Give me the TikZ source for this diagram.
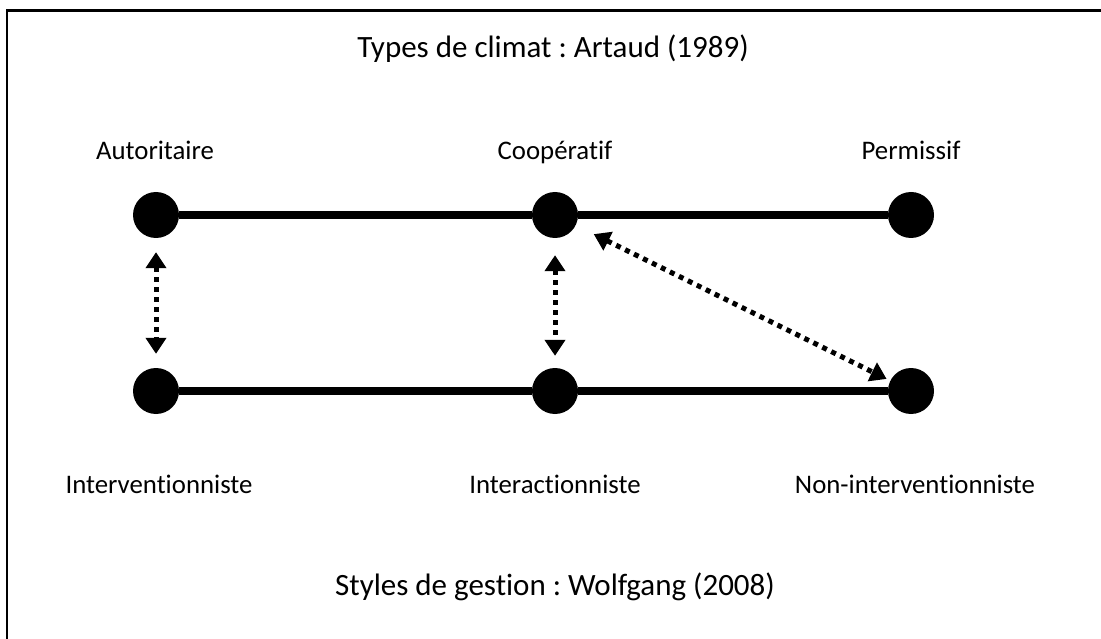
\documentclass[tikz,border=0pt]{standalone}
\usepackage{fontspec}
\setmainfont{Carlito}[Ligatures=NoCommon]
\frenchspacing
\usetikzlibrary{arrows.meta}
\tikzset{
    pnode/.style={circle,fill=black,minimum size=46pt,inner sep=0pt},
    lbl/.style={anchor=base,inner sep=0pt,font=\fontsize{26.8}{30}\selectfont},
    ttl/.style={anchor=base,inner sep=0pt,font=\fontsize{31}{36}\selectfont},
    axis/.style={draw,line width=8pt},
    dlink/.style={draw,line width=5pt,dash pattern=on 5pt off 5pt,
        {Triangle[length=16pt,width=20pt]}-{Triangle[length=16pt,width=20pt]}},
}

\begin{document}
\begin{tikzpicture}[x=1pt,y=-1pt]
\useasboundingbox (0,0) rectangle (1101,639);
\draw[line width=2.5pt] (7,639) -- (7,10.5) -- (1101,10.5);
% climat
\node[ttl] (climat) at (553,58) {Types de climat : Artaud (1989)};
\node[pnode] (aut) at (156,215) {};
\node[pnode] (coop) at (555,215) {};
\node[pnode] (perm) at (911,215) {};
\node[lbl] (autl) at (155,160) {Autoritaire};
\node[lbl] (coopl) at (555,160) {Coopératif};
\node[lbl] (perml) at (911,160) {Permissif};
% gestion
\node[pnode] (interv) at (156,391) {};
\node[pnode] (interac) at (555,391) {};
\node[pnode] (noninterv) at (911,391) {};
\node[lbl] (intervl) at (159,493) {Interventionniste};
\node[lbl] (interacl) at (555,493) {Interactionniste};
\node[lbl] (nonintervl) at (915,493) {Non-interventionniste};
\node[ttl] (gestion) at (555,595) {Styles de gestion : Wolfgang (2008)};
\path
    (aut) edge[axis] (coop)
    (coop) edge[axis] (perm)
    (interv) edge[axis] (interac)
    (interac) edge[axis] (noninterv)
    (aut) edge[dlink,shorten <=14pt,shorten >=14pt] (interv)
    (coop) edge[dlink,shorten <=17pt,shorten >=12pt] (interac)
    (coop) edge[dlink,shorten <=20pt,shorten >=4pt] (noninterv)
;
\end{tikzpicture}
\end{document}
